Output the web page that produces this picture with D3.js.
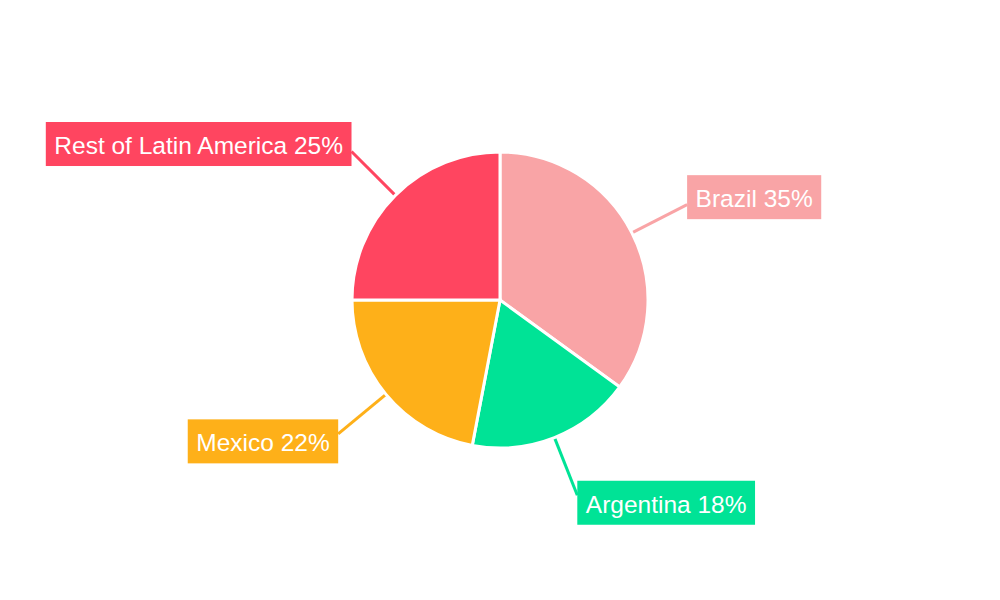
<!DOCTYPE html>
<html>
<head>
<meta charset="utf-8">
<script src="https://cdn.jsdelivr.net/npm/d3@7"></script>
<style>
  html, body { margin: 0; padding: 0; background: #fff; }
</style>
</head>
<body>
<div id="chart"></div>
<script>
// data
let categories = ["Brazil", "Argentina", "Mexico", "Rest of Latin America"];
let shares = [35, 18, 22, 25];
let colors = ["#F9A4A6", "#00E396", "#FEB019", "#FF4560"];

let width = 1000, height = 600;
let cx = 500, cy = 300;
let radius = 148;
let labelRadius = 210;

let svg = d3.select("#chart")
  .append("svg")
  .attr("width", width)
  .attr("height", height)
  .style("font-family", "'Liberation Sans', Arial, sans-serif");

let g = svg.append("g").attr("transform", "translate(" + cx + "," + cy + ")");

let slices = categories.map(function(c, i) {
  return { name: c, value: shares[i], color: colors[i] };
});

let pie = d3.pie().sort(null).value(function(d) { return d.value; });
let arc = d3.arc().innerRadius(0).outerRadius(radius);
let arcs = pie(slices);

arcs.forEach(function(d) {
  let mid = (d.startAngle + d.endAngle) / 2;
  d.mid = mid;
  d.px = Math.sin(mid) * radius;
  d.py = -Math.cos(mid) * radius;
  d.lx = Math.sin(mid) * labelRadius;
  d.ly = -Math.cos(mid) * labelRadius;
});

// leader lines first, they run under the boxes
g.selectAll("line.leader")
  .data(arcs)
  .enter()
  .append("line")
  .attr("class", "leader")
  .attr("x1", function(d) { return d.px; })
  .attr("y1", function(d) { return d.py; })
  .attr("x2", function(d) { return d.lx; })
  .attr("y2", function(d) { return d.ly; })
  .attr("stroke", function(d) { return d.data.color; })
  .attr("stroke-width", 3);

g.selectAll("path.slice")
  .data(arcs)
  .enter()
  .append("path")
  .attr("class", "slice")
  .attr("d", arc)
  .attr("fill", function(d) { return d.data.color; })
  .attr("stroke", "#fff")
  .attr("stroke-width", 3);

// labels
let pad = 8.5;
let boxH = 44;
let shiftY = 7.5;

let labels = g.selectAll("g.label")
  .data(arcs)
  .enter()
  .append("g")
  .attr("class", "label");

labels.append("rect")
  .attr("fill", function(d) { return d.data.color; });

labels.append("text")
  .attr("fill", "#fff")
  .style("font-size", "24.5px")
  .text(function(d) { return d.data.name + " " + d.data.value + "%"; });

labels.each(function(d) {
  let grp = d3.select(this);
  let tw = grp.select("text").node().getComputedTextLength();
  let w = tw + pad * 2;
  let right = Math.sin(d.mid) >= 0;
  let x0 = right ? d.lx : d.lx - w;
  let yc = d.ly + (d.ly < 0 ? -shiftY : shiftY);
  grp.select("rect")
    .attr("x", x0)
    .attr("y", yc - boxH / 2)
    .attr("width", w)
    .attr("height", boxH);
  grp.select("text")
    .attr("x", x0 + pad)
    .attr("y", yc - boxH / 2 + 32);
});
</script>
</body>
</html>
